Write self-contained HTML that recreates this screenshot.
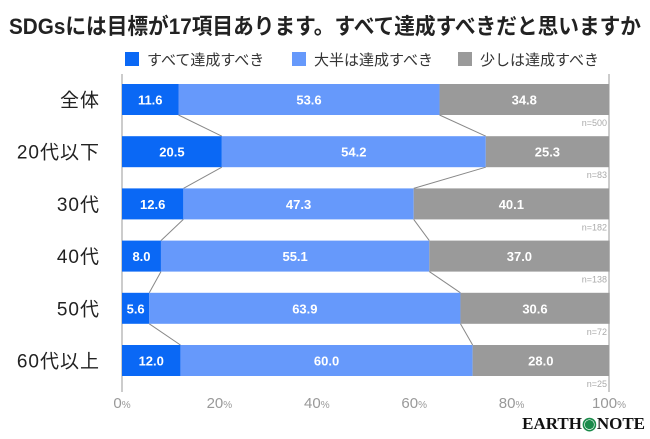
<!DOCTYPE html>
<html><head><meta charset="utf-8"><style>
body{margin:0;background:#fff;width:650px;height:434px;overflow:hidden;font-family:"Liberation Sans","Noto Sans CJK JP",sans-serif}
</style></head><body>
<svg id="c" width="650" height="434" xmlns="http://www.w3.org/2000/svg">
<text x="325" y="34" text-anchor="middle" font-size="22" font-weight="bold" fill="#222" font-family="Liberation Sans, Noto Sans CJK JP, sans-serif" textLength="632" lengthAdjust="spacingAndGlyphs">SDGsには目標が17項目あります。すべて達成すべきだと思いますか</text>
<g id="legend"></g>
<g id="plot"></g>
<text x="645" y="429" text-anchor="end" font-size="17" font-weight="bold" font-family="Liberation Serif, serif" fill="#111">EARTH<tspan fill="#1a8a4a">◉</tspan>NOTE</text>
</svg>
<script>
const categories=["全体","20代以下","30代","40代","50代","60代以上"];
const seriesNames=["すべて達成すべき","大半は達成すべき","少しは達成すべき"];
const s1=[11.6,20.5,12.6,8.0,5.6,12.0];
const s2=[53.6,54.2,47.3,55.1,63.9,60.0];
const s3=[34.8,25.3,40.1,37.0,30.6,28.0];
const nLabels=["n=500","n=83","n=182","n=138","n=72","n=25"];
const ticks=[0,20,40,60,80,100];
const colors=["#0a68f5","#6699fb","#9a9a9a"];
const NS="http://www.w3.org/2000/svg";
const x0=122,x1=609;
const X=v=>x0+(x1-x0)*v/100;
const Y=i=>84+i*52.2;
const bh=31;
const plot=document.getElementById('plot'),leg=document.getElementById('legend');
function mk(tag,attrs,parent){const e=document.createElementNS(NS,tag);for(const k in attrs)e.setAttribute(k,attrs[k]);parent.appendChild(e);return e;}
let g=mk('line',{x1:x0,x2:x0,y1:74,y2:392,stroke:'#ccc','stroke-width':2},plot);


g=mk('line',{x1:x1,x2:x1,y1:74,y2:392,stroke:'#ccc','stroke-width':2},plot);


ticks.forEach(t=>{
 const e=mk('text',{x:X(t),y:408,'text-anchor':'middle','font-size':15,fill:'#999'},plot);
 e.innerHTML=t+'<tspan font-size="10">%</tspan>';
 
 
});
const series=[s1,s2,s3];
categories.forEach((c,i)=>{
 let cum=0;
 const y=Y(i);
 series.forEach((s,k)=>{
  const r=mk('rect',{x:X(cum),y:y,width:X(cum+s[i])-X(cum),height:bh,fill:colors[k]},plot);
  
  
  const t=mk('text',{x:(X(cum)+X(cum+s[i]))/2,y:y+bh/2+5,'text-anchor':'middle','font-size':13,'font-weight':'bold',fill:'#fff'},plot);
  t.textContent=s[i].toFixed(1);
  
  
  cum+=s[i];
 });
 const cl=mk('text',{x:100,y:y+bh/2+7,'text-anchor':'end','font-size':19,fill:'#222','letter-spacing':1},plot);
 cl.textContent=c;
 
 
 const n=mk('text',{x:607,y:y+bh+11,'text-anchor':'end','font-size':9,fill:'#aaa'},plot);
 n.textContent=nLabels[i];
 
 
 if(i<categories.length-1){
  const b1a=s1[i],b1b=s1[i+1],b2a=s1[i]+s2[i],b2b=s1[i+1]+s2[i+1];
  [[b1a,b1b],[b2a,b2b]].forEach(p=>{
   const l=mk('line',{x1:X(p[0]),y1:y+bh,x2:X(p[1]),y2:Y(i+1),stroke:'#888','stroke-width':1},plot);
   
   
  });
 }
});
const lx=[125,292,458];
seriesNames.forEach((s,k)=>{
 const r=mk('rect',{x:lx[k],y:52,width:14,height:14,fill:colors[k]},leg);
 
 
 const t=mk('text',{x:lx[k]+22,y:65,'font-size':15,fill:'#333'},leg);
 t.textContent=s;
 
 
});
</script>
</body></html>
